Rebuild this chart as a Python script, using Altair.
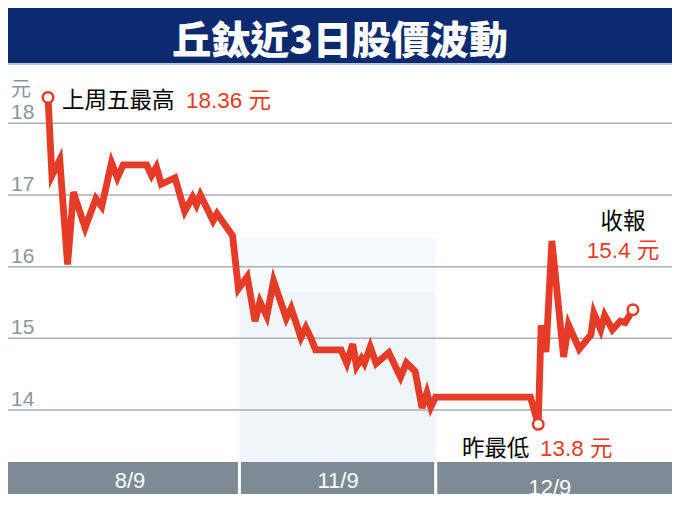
import altair as alt
import pandas as pd

# ---- data (time index in trading units, price in HK$) ----
times = [0.5, 2.5, 6.5, 10.5, 13.5, 19.5, 25, 28, 33, 36, 39, 51, 53.5, 56, 58.5,
         65.5, 70.5, 74.5, 76.5, 78.5, 85, 87, 95, 98, 102.5, 106.5, 109, 112.5,
         116, 122.5, 125, 130, 132.5, 135, 137.5, 150.5, 153.5, 156.5, 158.5, 161,
         162.5, 165.5, 168.5, 175, 181, 184, 188.5, 192, 194.5, 196.5, 199, 247.5,
         251.5, 253, 255.5, 258.5, 264.5, 267, 272.5, 278.5, 280, 283.5, 285.5,
         289.5, 293.5, 296, 300]
prices = [18.36, 17.27, 17.49, 16.03, 17.04, 16.54, 16.95, 16.84, 17.45, 17.24,
          17.42, 17.42, 17.27, 17.39, 17.15, 17.24, 16.77, 16.97, 16.86, 17.0,
          16.64, 16.74, 16.43, 15.69, 15.86, 15.24, 15.51, 15.31, 15.80, 15.28,
          15.42, 15.01, 15.15, 15.01, 14.84, 14.84, 14.65, 14.92, 14.61, 14.72,
          14.65, 14.88, 14.65, 14.80, 14.46, 14.66, 14.54, 14.03, 14.24, 14.04,
          14.18, 14.18, 13.8, 15.18, 14.81, 16.36, 14.74, 15.19, 14.85, 15.05,
          15.35, 15.12, 15.32, 15.12, 15.24, 15.22, 15.4]
marked_times = [0.5, 251.5, 300]
marked_prices = [18.36, 13.8, 15.4]

y_ticks = [14, 15, 16, 17, 18]
y_tick_labels = ["14", "15", "16", "17", "18"]
day_labels = ["8/9", "11/9", "12/9"]
day_centers = [42.5, 149, 257.5]
day_starts = [98.5, 199]

title_text = "丘鈦近3日股價波動"

W, H = 664, 495
RED = "#e63b26"
GRAY = "#8a959d"
CJK = "Noto Sans CJK TC"
LAT = "Liberation Sans, Noto Sans CJK TC"

xs = alt.Scale(domain=[-20, 320], nice=False, zero=False)
ys = alt.Scale(domain=[12.703, 19.608], nice=False, zero=False)

line_df = pd.DataFrame({"t": times, "v": prices})
mark_df = pd.DataFrame({"t": marked_times, "v": marked_prices})
tick_df = pd.DataFrame({"v": y_ticks, "label": y_tick_labels})
day_df = pd.DataFrame({"t": day_centers, "label": day_labels, "i": [0, 1, 2]})
sep_df = pd.DataFrame({"t": day_starts})
shade_df = pd.DataFrame({"t": [day_starts[0]], "t2": [day_starts[1]]})

X = lambda f="t": alt.X(f"{f}:Q", scale=xs, axis=None)
Y = lambda f="v": alt.Y(f"{f}:Q", scale=ys, axis=None)

base = alt.Chart(pd.DataFrame({"a": [0]}))

title_bar = base.mark_rect(color="#0b2a6f").encode(
    x=alt.value(0), x2=alt.value(W), y=alt.value(0), y2=alt.value(55))
title_line = base.mark_rule(color="#9fb3d6", strokeWidth=1.5).encode(
    x=alt.value(0), x2=alt.value(W), y=alt.value(56))
title = base.mark_text(text=title_text, font=CJK, fontSize=39, fontWeight=900,
                       color="white", align="center", baseline="alphabetic").encode(
    x=alt.value(W / 2), y=alt.value(46))

shade_top = alt.Chart(shade_df).mark_rect(color="#f5fbfc").encode(
    x=X("t"), x2="t2", y=alt.value(230), y2=alt.value(284))
shade_low = alt.Chart(shade_df).mark_rect(color="#eff5f9").encode(
    x=X("t"), x2="t2", y=alt.value(284), y2=alt.value(455))

grid = alt.Chart(tick_df).mark_rule(color="#a9afb3", strokeWidth=1.5).encode(
    y=Y(), x=alt.value(0), x2=alt.value(W))
grid_labels = alt.Chart(tick_df).mark_text(
    font=LAT, fontSize=21, color=GRAY, align="left", baseline="alphabetic", dy=-4
).encode(y=Y(), x=alt.value(3), text="label:N")
unit = base.mark_text(text="元", font=CJK, fontSize=20, color=GRAY, align="left",
                      baseline="alphabetic").encode(x=alt.value(3), y=alt.value(88))

bottom_bar = base.mark_rect(color="#7f8b94").encode(
    x=alt.value(0), x2=alt.value(W), y=alt.value(454), y2=alt.value(486))
seps = alt.Chart(sep_df).mark_rule(color="white", strokeWidth=3).encode(
    x=X("t"), y=alt.value(454), y2=alt.value(486))
day_text = alt.Chart(day_df).transform_filter("datum.i < 2").mark_text(
    font=LAT, fontSize=22, color="white", align="center", baseline="alphabetic"
).encode(x=X("t"), y=alt.value(480), text="label:N")
day_text3 = alt.Chart(day_df).transform_filter("datum.i == 2").mark_text(
    font=LAT, fontSize=22, color="white", align="center", baseline="alphabetic"
).encode(x=X("t"), y=alt.value(487), text="label:N")
bottom_cover = base.mark_rect(color="white").encode(
    x=alt.value(0), x2=alt.value(W), y=alt.value(486), y2=alt.value(H))

line = alt.Chart(line_df).mark_line(color=RED, strokeWidth=6.8).encode(
    x=X("t"), y=Y(), order="t:Q")
pts = alt.Chart(mark_df).mark_point(
    shape="circle", size=110, filled=True, fill="white", stroke=RED,
    strokeWidth=2.5, opacity=1).encode(x=X("t"), y=Y())

def txt(s, x, y, color="black", align="left", font=CJK):
    return base.mark_text(text=s, font=font, fontSize=22.5, color=color,
                          align=align, baseline="alphabetic").encode(
        x=alt.value(x), y=alt.value(y))

ann = [
    txt("上周五最高", 54, 100),
    txt("18.36 元", 178, 100, RED, font=LAT),
    txt("收報", 615, 221, align="center"),
    txt("15.4 元", 615, 250, RED, align="center", font=LAT),
    txt("昨最低", 454, 447.5),
    txt("13.8 元", 532, 447.5, RED, font=LAT),
]

chart = alt.layer(
    shade_top, shade_low, grid, grid_labels, unit, bottom_bar, seps,
    day_text, day_text3, bottom_cover, line, pts, *ann,
    title_bar, title_line, title,
).properties(width=W, height=H, autosize=alt.AutoSizeParams(type="none"),
             padding=0, background="white"
).configure_view(stroke=None)

chart.save("out.html", embed_options={"renderer": "svg", "actions": False})
